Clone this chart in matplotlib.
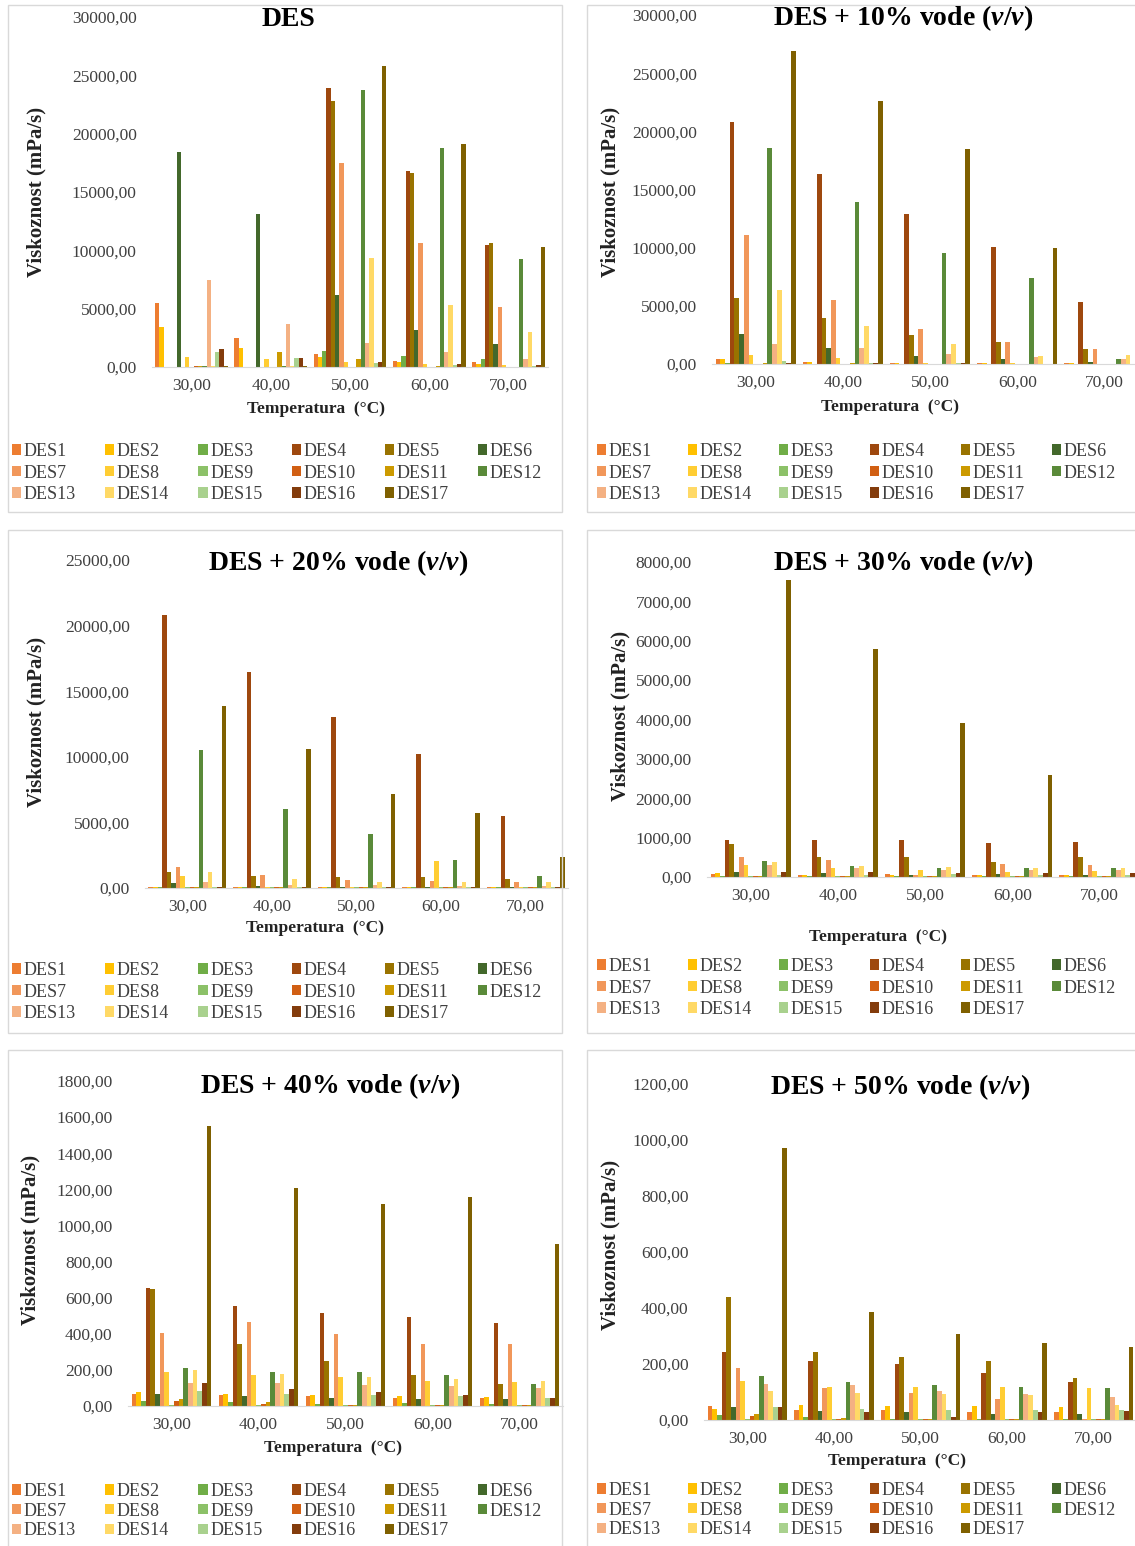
import numpy as np
import matplotlib
matplotlib.use('Agg')
import matplotlib.pyplot as plt
from matplotlib.patches import Rectangle
from matplotlib.ticker import FuncFormatter

plt.rcParams['font.family'] = ['Liberation Serif', 'DejaVu Serif']
plt.rcParams['mathtext.fontset'] = 'custom'
plt.rcParams['mathtext.it'] = 'Liberation Serif:italic:bold'
plt.rcParams['mathtext.rm'] = 'Liberation Serif:bold'

# kategorije (temperatura) i serije
temperature = ['30,00', '40,00', '50,00', '60,00', '70,00']
serije = ['DES%d' % i for i in range(1, 18)]
boje = ['#ED7D31', '#FFC000', '#70AD47', '#9E480E', '#997300', '#43682B',
        '#F1975A', '#FFCD33', '#8CC168', '#D15F13', '#CC9A00', '#5A8A39',
        '#F4B183', '#FFD966', '#A9D18E', '#833C0C', '#7F6000']

# viskoznost (mPa/s) za 30, 40, 50, 60, 70 °C, redom DES1..DES17
des_0 = [
    [5500, 2500, 1100, 550, 450],
    [3400, 1650, 850, 400, 300],
    [30, 30, 1400, 950, 700],
    [40, 40, 23900, 16800, 10500],
    [40, 40, 22800, 16650, 10600],
    [18400, 13100, 6200, 3200, 2000],
    [20, 20, 17450, 10650, 5150],
    [850, 700, 450, 250, 150],
    [20, 20, 40, 30, 20],
    [120, 30, 30, 30, 20],
    [50, 1250, 700, 50, 40],
    [60, 60, 23750, 18800, 9250],
    [7450, 3700, 2100, 1250, 700],
    [60, 60, 9350, 5300, 2980],
    [1300, 750, 350, 200, 100],
    [1550, 800, 450, 250, 150],
    [50, 50, 25800, 19100, 10300],
]
des_10 = [
    [450, 150, 100, 60, 50],
    [450, 200, 100, 60, 50],
    [50, 40, 40, 30, 30],
    [20800, 16300, 12900, 10100, 5300],
    [5700, 3950, 2450, 1900, 1250],
    [2550, 1400, 700, 430, 150],
    [11050, 5500, 3000, 1900, 1250],
    [800, 520, 60, 50, 40],
    [30, 30, 20, 20, 20],
    [40, 30, 20, 20, 20],
    [80, 60, 40, 30, 30],
    [18600, 13900, 9550, 7350, 430],
    [1750, 1350, 830, 600, 430],
    [6350, 3300, 1750, 700, 800],
    [250, 100, 50, 40, 40],
    [100, 100, 50, 40, 40],
    [26900, 22600, 18450, 9950, 5500],
]
des_20 = [
    [60, 80, 60, 60, 60],
    [60, 60, 50, 50, 50],
    [50, 50, 40, 40, 40],
    [20800, 16450, 13050, 10250, 5450],
    [1200, 950, 870, 840, 680],
    [400, 180, 80, 60, 50],
    [1600, 980, 620, 560, 420],
    [900, 60, 50, 2050, 50],
    [40, 40, 40, 40, 40],
    [40, 40, 40, 40, 40],
    [50, 50, 50, 50, 50],
    [10500, 6050, 4100, 2150, 900],
    [480, 260, 200, 150, 150],
    [1200, 720, 480, 420, 420],
    [80, 70, 60, 60, 60],
    [80, 70, 60, 60, 60],
    [13850, 10600, 7150, 5700, 2400],
]
des_30 = [
    [70, 60, 70, 60, 60],
    [100, 60, 60, 60, 50],
    [20, 20, 20, 20, 20],
    [940, 940, 940, 870, 900],
    [840, 520, 520, 370, 520],
    [130, 105, 60, 80, 60],
    [520, 440, 40, 340, 300],
    [300, 220, 175, 130, 150],
    [20, 20, 20, 20, 20],
    [20, 20, 20, 20, 20],
    [25, 25, 25, 25, 25],
    [410, 290, 220, 220, 220],
    [300, 220, 175, 175, 175],
    [390, 280, 245, 220, 220],
    [50, 50, 80, 50, 50],
    [130, 130, 105, 105, 100],
    [7550, 5800, 3920, 2580, 1700],
]
des_40 = [
    [69, 60, 56, 47, 47],
    [77, 65, 62, 53, 51],
    [30, 20, 10, 15, 10],
    [655, 555, 515, 492, 462],
    [649, 341, 250, 171, 123],
    [69, 53, 44, 39, 39],
    [405, 466, 398, 343, 343],
    [188, 171, 162, 139, 132],
    [5, 5, 5, 5, 5],
    [25, 10, 8, 8, 8],
    [39, 20, 8, 8, 8],
    [209, 188, 188, 171, 123],
    [130, 130, 114, 109, 100],
    [197, 179, 162, 148, 141],
    [83, 65, 60, 56, 47],
    [130, 95, 77, 62, 47],
    [1550, 1210, 1120, 1160, 900],
]
des_50 = [
    [49, 34, 34, 30, 30],
    [40, 54, 49, 49, 46],
    [18, 10, 5, 5, 5],
    [242, 211, 200, 169, 136],
    [439, 242, 225, 211, 151],
    [45, 33, 28, 20, 22],
    [184, 114, 98, 76, 5],
    [140, 118, 118, 118, 114],
    [5, 3, 3, 3, 3],
    [13, 5, 5, 5, 5],
    [22, 8, 5, 5, 5],
    [157, 136, 124, 118, 114],
    [130, 124, 102, 92, 82],
    [102, 96, 92, 88, 52],
    [45, 40, 37, 37, 34],
    [45, 30, 12, 28, 33],
    [970, 387, 307, 275, 260],
]

naslovi = ['DES',
           r'DES + 10% vode ($\mathit{v}$/$\mathit{v}$)',
           r'DES + 20% vode ($\mathit{v}$/$\mathit{v}$)',
           r'DES + 30% vode ($\mathit{v}$/$\mathit{v}$)',
           r'DES + 40% vode ($\mathit{v}$/$\mathit{v}$)',
           r'DES + 50% vode ($\mathit{v}$/$\mathit{v}$)']
podaci = [des_0, des_10, des_20, des_30, des_40, des_50]
y_max = [30000, 30000, 25000, 8000, 1800, 1200]
y_korak = [5000, 5000, 5000, 1000, 200, 200]

W, H = 1135, 1546
fig = plt.figure(figsize=(W / 100, H / 100), dpi=100)

# raspored u pikselima: okvir, plot (L, R, T, B), naslov, y-oznaka, x-oznaka, legenda
raspored = [
    dict(box=(8, 5, 562, 512), ax=(152, 548, 17, 367), tit=(288, 19), yl=(36, 192), xl=(316, 409), leg=(12, 443)),
    dict(box=(587, 5, 1150, 512), ax=(712, 1148, 15, 364), tit=(903, 18), yl=(610, 192), xl=(890, 407), leg=(597, 443)),
    dict(box=(8, 530, 562, 1033), ax=(145, 568, 560, 888), tit=(338, 563), yl=(36, 722), xl=(315, 928), leg=(12, 962)),
    dict(box=(587, 530, 1150, 1033), ax=(707, 1143, 562, 877), tit=(903, 563), yl=(620, 716), xl=(878, 937), leg=(597, 958)),
    dict(box=(8, 1050, 562, 1570), ax=(128, 563, 1081, 1406), tit=(330, 1086), yl=(30, 1240), xl=(333, 1448), leg=(12, 1483)),
    dict(box=(587, 1050, 1150, 1570), ax=(704, 1137, 1084, 1420), tit=(900, 1087), yl=(610, 1245), xl=(897, 1461), leg=(597, 1482)),
]

x = np.arange(len(temperature))
sirina = 1 / 18.5
fmt = FuncFormatter(lambda v, p: ('%.2f' % v).replace('.', ','))

for k in range(6):
    r = raspored[k]
    bx0, by0, bx1, by1 = r['box']
    fig.patches.append(Rectangle((bx0 / W, 1 - by1 / H), (bx1 - bx0) / W, (by1 - by0) / H,
                                 transform=fig.transFigure, fill=False,
                                 edgecolor='#D9D9D9', linewidth=1))
    L, R, T, B = r['ax']
    ax = fig.add_axes([L / W, 1 - B / H, (R - L) / W, (B - T) / H])
    ax.patch.set_alpha(0)

    vrijednosti = podaci[k]
    rucke = []
    for i in range(17):
        b = ax.bar(x + (i - 8) * sirina, vrijednosti[i], width=sirina,
                   color=boje[i], label=serije[i], linewidth=0)
        rucke.append(b)

    ax.set_xlim(-0.5, 4.5)
    ax.set_ylim(0, y_max[k])
    ax.set_yticks(np.arange(0, y_max[k] + 1, y_korak[k]))
    ax.yaxis.set_major_formatter(fmt)
    ax.set_xticks(x)
    ax.set_xticklabels(temperature)
    ax.tick_params(length=0, labelsize=12.5, colors='#404040')
    ax.tick_params(axis='y', pad=11)
    ax.tick_params(axis='x', pad=8)
    for s in ['top', 'right', 'left']:
        ax.spines[s].set_visible(False)
    ax.spines['bottom'].set_color('#D9D9D9')

    # naslov
    tx, ty = r['tit']
    fig.text(tx / W, 1 - ty / H, naslovi[k], ha='center', va='center',
             fontsize=20, fontweight='bold', color='black')
    # nazivi osi
    yx, yy = r['yl']
    fig.text(yx / W, 1 - yy / H, 'Viskoznost (mPa/s)', rotation=90, ha='center',
             va='center', fontsize=15, fontweight='bold', color='#222222')
    xx, xy = r['xl']
    fig.text(xx / W, 1 - xy / H, 'Temperatura  (°C)', ha='center', va='center',
             fontsize=12.5, fontweight='bold', color='#222222')

    # legenda (redoslijed po recima)
    red = [j + 6 * rr for j in range(6) for rr in range(3) if j + 6 * rr < 17]
    lx, ly = r['leg']
    ax.legend([rucke[j] for j in red], [serije[j] for j in red], ncol=6,
              loc='upper left', bbox_to_anchor=(lx / W, 1 - ly / H),
              bbox_transform=fig.transFigure, frameon=False, fontsize=13,
              handlelength=0.5, handleheight=0.5, handletextpad=0.15,
              columnspacing=1.62 if k % 2 == 0 else 1.5,
              labelspacing=0.25 if k < 4 else 0.15, borderpad=0, borderaxespad=0,
              labelcolor='#404040')

fig.savefig('out.png', dpi=100, facecolor='white')
